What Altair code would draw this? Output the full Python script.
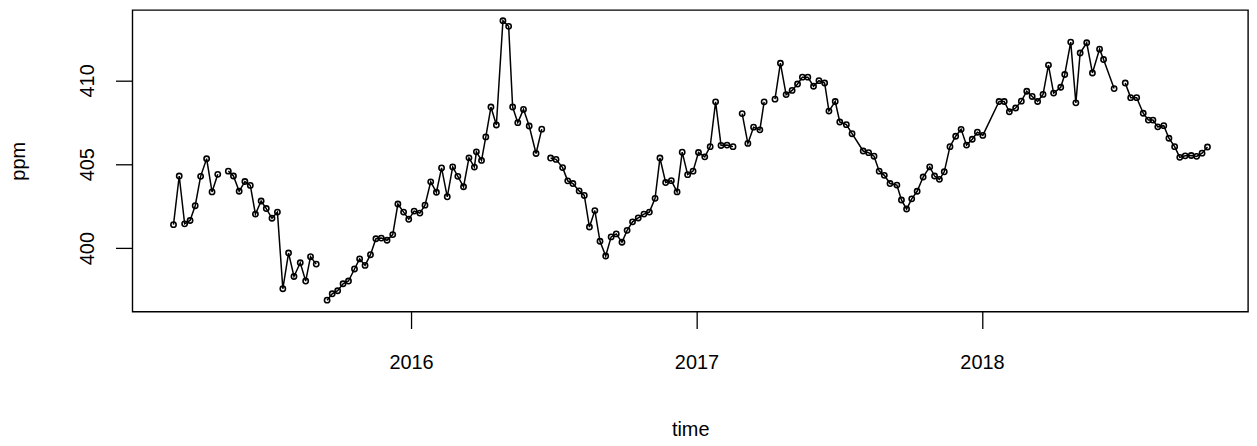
import altair as alt
import pandas as pd

# decimal-year time stamps
years = [
    2015.168, 2015.188, 2015.207, 2015.226, 2015.244, 2015.263, 2015.284, 2015.303, 2015.323, 2015.341,
    2015.360, 2015.378, 2015.398, 2015.418, 2015.437, 2015.455, 2015.475, 2015.493, 2015.513, 2015.532,
    2015.551, 2015.571, 2015.590, 2015.612, 2015.631, 2015.648, 2015.668, 2015.687, 2015.706, 2015.724,
    2015.743, 2015.762, 2015.781, 2015.802, 2015.820, 2015.839, 2015.858, 2015.877, 2015.896, 2015.916,
    2015.936, 2015.954, 2015.974, 2015.992, 2016.011, 2016.031, 2016.049, 2016.069, 2016.089, 2016.107,
    2016.127, 2016.146, 2016.164, 2016.184, 2016.203, 2016.222, 2016.229, 2016.247, 2016.262, 2016.280,
    2016.299, 2016.322, 2016.342, 2016.356, 2016.374, 2016.394, 2016.414, 2016.438, 2016.458, 2016.474,
    2016.489, 2016.508, 2016.531, 2016.549, 2016.567, 2016.589, 2016.607, 2016.625, 2016.644, 2016.662,
    2016.682, 2016.701, 2016.719, 2016.739, 2016.757, 2016.776, 2016.796, 2016.816, 2016.835, 2016.855,
    2016.872, 2016.892, 2016.912, 2016.932, 2016.950, 2016.969, 2016.988, 2017.007, 2017.029, 2017.048,
    2017.067, 2017.086, 2017.107, 2017.128, 2017.144, 2017.160, 2017.180, 2017.200, 2017.222, 2017.237,
    2017.256, 2017.275, 2017.294, 2017.314, 2017.335, 2017.354, 2017.371, 2017.390, 2017.410, 2017.429,
    2017.449, 2017.464, 2017.486, 2017.502, 2017.525, 2017.545, 2017.584, 2017.603, 2017.622, 2017.640,
    2017.658, 2017.678, 2017.702, 2017.718, 2017.736, 2017.754, 2017.773, 2017.794, 2017.817, 2017.834,
    2017.851, 2017.868, 2017.888, 2017.908, 2017.927, 2017.946, 2017.966, 2017.984, 2018.003, 2018.060,
    2018.078, 2018.096, 2018.118, 2018.138, 2018.157, 2018.176, 2018.195, 2018.214, 2018.233, 2018.251,
    2018.276, 2018.290, 2018.311, 2018.329, 2018.344, 2018.367, 2018.387, 2018.412, 2018.426, 2018.463,
    2018.482, 2018.502, 2018.521, 2018.542, 2018.565, 2018.583, 2018.599, 2018.616, 2018.637, 2018.655,
    2018.675, 2018.693, 2018.712, 2018.733, 2018.752, 2018.771, 2018.790,
]

# CO2 concentration (ppm); None = missing value (line break)
ppm = [
    401.40, 404.30, 401.45, 401.65, 402.53, 404.28, 405.33, 403.35, 404.40, None,
    404.59, 404.30, 403.39, 403.97, 403.74, 402.03, 402.81, 402.36, 401.78, 402.15,
    397.58, 399.71, 398.31, 399.13, 398.04, 399.49, 399.05, None, 396.90, 397.28,
    397.46, 397.88, 398.04, 398.76, 399.36, 398.97, 399.61, 400.56, 400.60, 400.47,
    400.81, 402.63, 402.15, 401.72, 402.21, 402.09, 402.56, 403.95, 403.33, 404.78,
    403.06, 404.84, 404.28, 403.66, 405.38, 404.83, 405.74, 405.23, 406.63, 408.41,
    407.34, 413.55, 413.22, 408.41, 407.48, 408.27, 407.28, 405.64, 407.09, None,
    405.37, 405.29, 404.80, 404.01, 403.85, 403.41, 403.14, 401.26, 402.24, 400.41,
    399.53, 400.67, 400.85, 400.35, 401.06, 401.57, 401.80, 402.03, 402.15, 402.97,
    405.37, 403.91, 404.02, 403.35, 405.72, 404.38, 404.59, 405.70, 405.44, 406.05,
    408.72, 406.12, 406.14, 406.05, None, 408.02, 406.24, 407.21, 407.05, 408.72,
    None, 408.88, 411.02, 409.15, 409.40, 409.78, 410.19, 410.19, 409.65, 409.98,
    409.84, 408.17, 408.74, 407.52, 407.36, 406.82, 405.79, 405.69, 405.48, 404.59,
    404.34, 403.85, 403.76, 402.87, 402.33, 402.94, 403.39, 404.24, 404.84, 404.30,
    404.10, 404.55, 406.05, 406.67, 407.08, 406.14, 406.49, 406.91, 406.72, 408.74,
    408.74, 408.13, 408.35, 408.76, 409.35, 409.04, 408.74, 409.16, 410.91, 409.24,
    409.59, 410.35, 412.28, 408.66, 411.63, 412.24, 410.44, 411.86, 411.24, 409.51,
    None, 409.84, 408.97, 408.97, 408.04, 407.63, 407.63, 407.23, 407.30, 406.55,
    406.05, 405.41, 405.50, 405.52, 405.47, 405.66, 406.03,
]

x_ticks = [2016, 2017, 2018]
y_ticks = [400, 405, 410]
x_domain = [2015.024, 2018.932]
y_domain = [396.22, 414.19]

rows = []
seg = 0
for t, v in zip(years, ppm):
    if v is None:
        seg += 1
        continue
    rows.append({"time": t, "ppm": v, "seg": seg})
df = pd.DataFrame(rows)

FONT = "Liberation Sans"
FS = 20
W, H = 1121, 303

x_enc = alt.X(
    "time:Q",
    scale=alt.Scale(domain=x_domain, nice=False, zero=False),
    axis=alt.Axis(
        values=x_ticks, format="d", title="time",
        grid=False, domain=False, ticks=True, tickSize=17, tickWidth=1.3, tickColor="black",
        labelFont=FONT, labelFontSize=FS, labelColor="black", labelPadding=24,
        labelFlush=False, labelOverlap=False, labelBaseline="top", labelAlign="center",
        titleFont=FONT, titleFontSize=FS, titleFontWeight="normal", titleColor="black",
        titleX=W / 2, titleY=125, titleAlign="center", titleBaseline="alphabetic",
    ),
)
y_enc = alt.Y(
    "ppm:Q",
    scale=alt.Scale(domain=y_domain, nice=False, zero=False),
    axis=alt.Axis(
        values=y_ticks, title="ppm",
        grid=False, domain=False, ticks=True, tickSize=17, tickWidth=1.3, tickColor="black",
        labelFont=FONT, labelFontSize=FS, labelColor="black", labelPadding=22,
        labelAngle=270, labelAlign="center", labelBaseline="alphabetic",
        labelFlush=False, labelOverlap=False,
        titleFont=FONT, titleFontSize=FS, titleFontWeight="normal", titleColor="black",
        titleAngle=270, titleX=-108, titleY=H / 2, titleAlign="center", titleBaseline="alphabetic",
    ),
)

line = alt.Chart(df).mark_line(color="black", strokeWidth=1.5).encode(
    x=x_enc, y=y_enc, detail="seg:N"
)
points = alt.Chart(df).mark_point(
    shape="circle", filled=False, color="black", size=28, strokeWidth=1.6, opacity=1
).encode(x=x_enc, y=y_enc)

chart = (
    alt.layer(line, points)
    .properties(
        width=W, height=H,
        autosize=alt.AutoSizeParams(type="none"),
        padding={"left": 125, "top": 1, "right": 1, "bottom": 130},
        background="white",
    )
    .configure_view(stroke="black", strokeWidth=1.4)
)

chart.save("out.html", embed_options={"renderer": "svg", "actions": False})
